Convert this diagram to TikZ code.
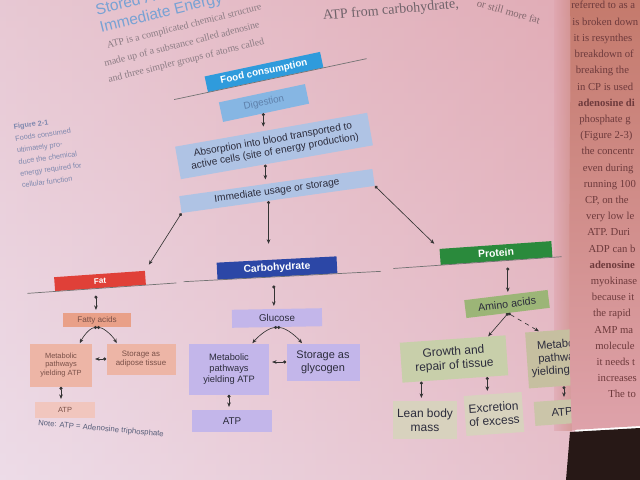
\documentclass[tikz,border=0pt]{standalone}
\usepackage{fontspec}
\setmainfont{Liberation Serif}
\setsansfont{Liberation Sans}
\usetikzlibrary{arrows.meta,calc}

\definecolor{pageL}{HTML}{EBD6E2}
\definecolor{pageR}{HTML}{DFA2AC}
\definecolor{pageT}{HTML}{E4B8C2}
\definecolor{pageB}{HTML}{F0E4F0}
\definecolor{rpageT}{HTML}{C47A6C}
\definecolor{rpageB}{HTML}{DEA2AA}
\definecolor{rtext}{HTML}{6E3A3C}
\definecolor{booktext}{HTML}{8C7C84}
\definecolor{headblue}{HTML}{78A2D4}
\definecolor{capc}{HTML}{7E88AE}
\definecolor{inkc}{HTML}{2C2C3C}
\definecolor{foodc}{HTML}{2F9BDC}
\definecolor{digc}{HTML}{86B6E3}
\definecolor{digtext}{HTML}{5E80AA}
\definecolor{absc}{HTML}{AFC3E4}
\definecolor{fatc}{HTML}{E04038}
\definecolor{fattyc}{HTML}{E9A088}
\definecolor{fatbox}{HTML}{EDB5A6}
\definecolor{fatatp}{HTML}{F1C6BE}
\definecolor{fattext}{HTML}{7A5048}
\definecolor{carbc}{HTML}{2C47A6}
\definecolor{glucc}{HTML}{C3B6EA}
\definecolor{protc}{HTML}{2A8A3C}
\definecolor{aminoc}{HTML}{9CB577}
\definecolor{growc}{HTML}{C8CFAA}
\definecolor{leanc}{HTML}{D8D2BE}
\definecolor{protmetc}{HTML}{C6BFA0}

\begin{document}
\begin{tikzpicture}[x=0.025cm,y=-0.025cm,
  box/.style={inner sep=1pt,align=center,text=inkc},
  head/.style={box,text=white},
  wh/.style 2 args={minimum width={#1*0.025cm},minimum height={#2*0.025cm}},
  fs/.style={font=\sffamily\fontsize{#1}{\dimexpr #1pt*115/100\relax}\selectfont},
  fb/.style={font=\sffamily\bfseries\fontsize{#1}{\dimexpr #1pt*115/100\relax}\selectfont},
  link/.style={{Circle[length=2.2pt]}-{Stealth[length=3.2pt,width=2.6pt]},line width=0.45pt,black!80},
  rule/.style={black!55,line width=0.5pt},
  bk/.style={inner sep=0pt,text=booktext,font=\fontsize{7}{12}\selectfont}]
\useasboundingbox (0,0) rectangle (640,480);
\clip (0,0) rectangle (640,480);

% page
\shade[left color=pageL,right color=pageR] (0,0) rectangle (575,480);
\shade[top color=pageT,bottom color=pageB,fill opacity=0.45] (0,0) rectangle (575,480);
\shade[left color=pageR,right color=rpageT,fill opacity=0.5] (554,0) rectangle (572,430);

% book text
\node[bk,anchor=north west,align=left,rotate=14,text=headblue,font=\sffamily\fontsize{11}{12.8}\selectfont] (bthead) at (94,4)
  {Stored ATP:\\Immediate Energy};
\node[bk,anchor=north west,align=left,rotate=14] (btbody) at (99,43)
  {\hspace*{5pt}ATP is a complicated chemical structure\\made up of a substance called adenosine\\and three simpler groups of atoms called};
\node[bk,anchor=base west,font=\fontsize{10}{11}\selectfont,rotate=5,text=booktext!80!black] (bt1) at (323,20) {ATP from carbohydrate,};
\node[bk,anchor=base west,font=\fontsize{7.5}{9}\selectfont,rotate=-16,text=booktext!70!rtext] (bt2) at (476,6) {or still more fat};

% caption
\node[anchor=north west,inner sep=0pt,align=left,text=capc,font=\sffamily\fontsize{5.2}{8.4}\selectfont,rotate=8] (cap) at (13,124)
  {\textbf{Figure 2-1}\\Foods consumed\\ultimately pro-\\duce the chemical\\energy required for\\cellular function};

% top of chart
\node[head,fill=foodc,fb=7,wh={118}{16},rotate=12] (food) at (264,72) {Food consumption};
\node[box,fill=digc,text=digtext,fs=7,wh={88}{20},rotate=12] (digest) at (264,103) {Digestion};
\node[box,fill=absc,fs=7.2,wh={195}{33},rotate=10] (absorb) at (274,146) {Absorption into blood transported to\\active cells (site of energy production)};
\node[box,fill=absc,fs=7.2,wh={195}{17},rotate=8] (usage) at (277,191) {Immediate usage or storage};

\draw[rule] ($(food.south west)!-0.29!(food.south east)$) -- ($(food.south east)!-0.37!(food.south west)$);
\draw[link,shorten >=2pt] ([xshift=-2pt]digest.south) -- ([xshift=-2pt]digest.south |- absorb.north);
\coordinate (a1) at ($(absorb.south west)!0.44!(absorb.south east)$);
\draw[link,shorten >=2pt] (a1) -- (a1 |- usage.north);

% three food groups
\node[head,fill=fatc,fb=5.8,wh={91}{14},rotate=4] (fat) at (100,281) {Fat};
\node[head,fill=carbc,fb=7.3,wh={120}{17},rotate=3] (carb) at (277,268) {Carbohydrate};
\node[head,fill=protc,fb=7.4,wh={112}{16},rotate=4] (protein) at (496,253) {Protein};

\draw[rule] ($(fat.south west)!-0.3!(fat.south east)$) -- ($(fat.south east)!-0.33!(fat.south west)$);
\draw[rule] ($(carb.south west)!-0.28!(carb.south east)$) -- ($(carb.south east)!-0.36!(carb.south west)$);
\draw[rule] ($(protein.south west)!-0.42!(protein.south east)$) -- ($(protein.south east)!-0.08!(protein.south west)$);

\draw[link,shorten >=5pt] (usage.south west) -- (fat.north east);
\coordinate (u1) at ($(usage.south west)!0.45!(usage.south east)$);
\draw[link,shorten >=11pt] (u1) -- (u1 |- carb.north);
\draw[link,shorten >=5pt] (usage.south east) -- (protein.north west);

% fat
\node[box,fill=fattyc,text=fattext,fs=5.8,wh={68}{14}] (fatty) at (97,320) {Fatty acids};
\node[box,fill=fatbox,text=fattext,fs=5.3,wh={62}{43}] (fatmet) at (61,365) {Metabolic\\pathways\\yielding ATP};
\node[box,fill=fatbox,text=fattext,fs=5.6,wh={69}{31}] (fatstore) at (141,359) {Storage as\\adipose tissue};
\node[box,fill=fatatp,text=fattext,fs=5.3,wh={60}{16}] (fatatp) at (65,410) {ATP};
\node[inner sep=0pt,text=capc!70!black,fs=5.5,rotate=-5] (note) at (101,429) {Note: ATP = Adenosine triphosphate};

\coordinate (f1) at ($(fat.south west)!0.45!(fat.south east)$);
\draw[link,shorten <=5pt,shorten >=2pt] (f1) -- (f1 |- fatty.north);
\draw[link] (fatty.south) .. controls +(-8,1) and +(3,-6) .. ($(fatmet.north east)!0.4!(fatmet.north)$);
\draw[link] (fatty.south) .. controls +(8,1) and +(-3,-6) .. ($(fatstore.north west)!0.3!(fatstore.north)$);
\draw[link,shorten >=2pt] (fatstore.west) -- (fatstore.west -| fatmet.east);
\draw[link,shorten >=2pt] (fatmet.south) -- (fatmet.south |- fatatp.north);

% carbohydrate
\node[box,fill=glucc,fs=7,wh={90}{18},rotate=1] (glucose) at (277,318) {Glucose};
\node[box,fill=glucc,fs=6.6,wh={80}{51}] (carbmet) at (229,369) {Metabolic\\pathways\\yielding ATP};
\node[box,fill=glucc,fs=7.8,wh={73}{37}] (carbstore) at (323,362) {Storage as\\glycogen};
\node[box,fill=glucc,fs=7,wh={80}{22}] (carbatp) at (232,421) {ATP};

\coordinate (c1) at ($(carb.south west)!0.47!(carb.south east)$);
\draw[link,shorten <=6pt,shorten >=2pt] (c1) -- (c1 |- glucose.north);
\draw[link] (glucose.south) .. controls +(-10,1) and +(5,-6) .. ($(carbmet.north)!0.58!(carbmet.north east)$);
\draw[link] (glucose.south) .. controls +(10,1) and +(-5,-6) .. ($(carbstore.north west)!0.43!(carbstore.north)$);
\draw[link,shorten >=2pt] (carbstore.west) -- (carbstore.west -| carbmet.east);
\draw[link,shorten >=2pt] (carbmet.south) -- (carbmet.south |- carbatp.north);

% protein
\node[box,fill=aminoc,fs=7.6,wh={84}{18},rotate=7] (amino) at (507,304) {Amino acids};
\node[box,fill=growc,fs=8.5,wh={106}{40},rotate=4] (growth) at (454,359) {Growth and\\repair of tissue};
\node[box,fill=protmetc,fs=8,wh={70}{56},rotate=4] (protmet) at (562,358) {Metabolic\\pathways\\yielding ATP};
\node[box,fill=leanc,fs=8.5,wh={64}{38}] (lean) at (425,420) {Lean body\\mass};
\node[box,fill=leanc,fs=8.5,wh={58}{40},rotate=4] (excrete) at (494,414) {Excretion\\of excess};
\node[box,fill=protmetc!70!leanc,fs=8,wh={55}{24},rotate=4] (protatp) at (562,412) {ATP};

\coordinate (p1) at ($(protein.south west)!0.6!(protein.south east)$);
\draw[link,shorten <=5pt,shorten >=2pt] (p1) -- (p1 |- amino.north);
\draw[link] (amino.south) -- ($(growth.north)!0.67!(growth.north east)$);
\draw[link,dashed] (amino.south) -- ($(protmet.north west)!0.4!(protmet.north)$);
\coordinate (g1) at ($(growth.south west)!0.18!(growth.south east)$);
\coordinate (g2) at ($(growth.south west)!0.8!(growth.south east)$);
\draw[link,shorten >=2pt] (g1) -- (g1 |- lean.north);
\draw[link,shorten >=2pt] (g2) -- (g2 |- excrete.north);
\draw[link,shorten >=2pt] (protmet.south) -- (protmet.south |- protatp.north);

% right page
\shade[top color=rpageT,bottom color=rpageB] (570,0) -- (640,0) -- (640,426) -- (572,430) .. controls (566,300) and (572,100) .. cycle;
\foreach \t [count=\i] in {referred to as a,is broken down,it is resynthes,breakdown of,breaking the,in CP is used,
  \textbf{adenosine di},phosphate g,(Figure 2-3),the concentr,even during,running 100,{CP, on the},very low le,
  ATP. Duri,ADP can b,\textbf{adenosine},myokinase,because it,the rapid,AMP ma,molecule,it needs t,increases}
  \node[anchor=base west,inner sep=0pt,text=rtext,font=\fontsize{7.6}{9}\selectfont] (rp\i) at ({571+1.15*(\i-1)},{9+16.2*(\i-1)}) {\t};
\node[anchor=base west,inner sep=0pt,text=rtext,font=\fontsize{7.6}{9}\selectfont] (rp25) at (608,397) {The to};
\fill[black!80!rpageT] (570,432) -- (640,428) -- (640,480) -- (566,480) -- cycle;
\end{tikzpicture}
\end{document}
